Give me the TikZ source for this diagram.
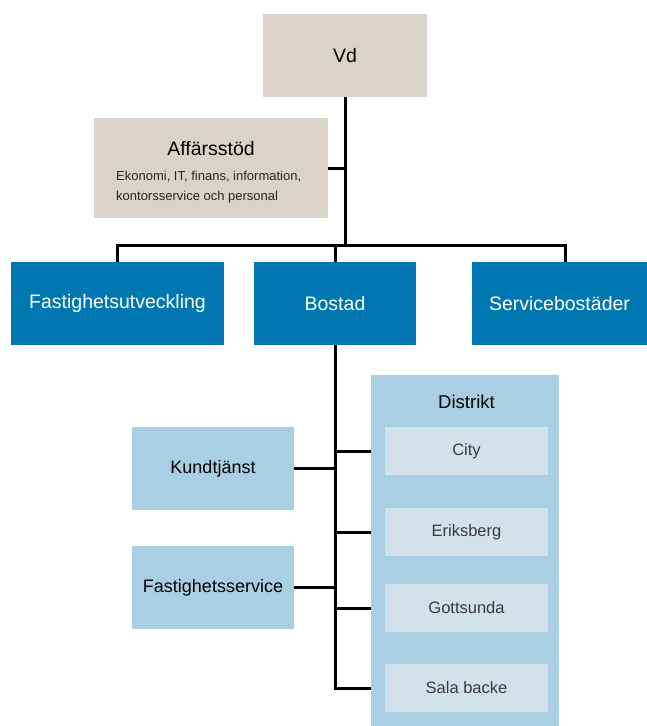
\documentclass[tikz,border=0pt]{standalone}
\usepackage{fontspec}
\setmainfont{Liberation Sans}
\definecolor{beige}{HTML}{D9D3C9}
\definecolor{dblue}{HTML}{0077B0}
\definecolor{lblue}{HTML}{A9CFE3}
\definecolor{pblue}{HTML}{D3E1EA}
\definecolor{dtext}{HTML}{3A3A3A}
\begin{document}
\begin{tikzpicture}[x=1pt,y=-1pt,
  box/.style={inner sep=0pt, align=center, anchor=center},
  gbox/.style={box, fill=beige, text=black},
  bbox/.style={box, fill=dblue, text=white, minimum height=83pt, font=\fontsize{19.5}{22}\selectfont},
  lbox/.style={box, fill=lblue, text=black, minimum width=162pt, minimum height=83pt, font=\fontsize{18}{20}\selectfont},
  ibox/.style={box, fill=pblue, text=dtext, minimum width=163pt, minimum height=48pt, font=\fontsize{16.5}{19}\selectfont},
  conn/.style={line width=3pt, black}]
\useasboundingbox (0,0) rectangle (647,726);
% top
\node[gbox, minimum width=164pt, minimum height=83pt, font=\fontsize{19.5}{22}\selectfont] (vd) at (345,55.5) {Vd};
\node[gbox, minimum width=234pt, minimum height=100pt] (aff) at (211,168) {};
\node[box, font=\fontsize{19.5}{22}\selectfont] (afft) at (211,149) {Affärsstöd};
\node[box, anchor=west, align=left, font=\fontsize{13}{20}\selectfont, text=black!85] (affs) at (116,187) {Ekonomi, IT, finans, information,\\kontorsservice och personal};
% second level
\node[bbox, minimum width=213pt] (fu) at (117.5,303.5) {Fastighetsutveckling};
\node[bbox, minimum width=162pt] (bo) at (335,303.5) {Bostad};
\node[bbox, minimum width=175pt] (sb) at (559.5,303.5) {Servicebostäder};
% district
\node[box, fill=lblue, minimum width=188pt, minimum height=351pt] (dist) at (465,550.5) {};
\node[box, font=\fontsize{18.5}{20}\selectfont] (distt) at (466.5,402) {Distrikt};
\node[ibox] (city) at (466.5,451) {City};
\node[ibox] (erik) at (466.5,532) {Eriksberg};
\node[ibox] (gott) at (466.5,608) {Gottsunda};
\node[ibox] (sala) at (466.5,688) {Sala backe};
% left
\node[lbox] (kund) at (213,468.5) {Kundtjänst};
\node[lbox] (fserv) at (213,587.5) {Fastighetsservice};
% connectors
\coordinate (bus) at (345,245);
\draw[conn] (vd.south) -- (bus);
\draw[conn] (aff.east) -- (aff.east -| vd.south);
\draw[conn] (fu.north) |- (bus) -| ([xshift=6pt]sb.north);
\draw[conn] (bo.north) -- (bo.north |- bus);
\draw[conn] (bo.south) |- (sala.west -| dist.west);
\draw[conn] (city.west -| bo.south) -- (city.west -| dist.west);
\draw[conn] (erik.west -| bo.south) -- (erik.west -| dist.west);
\draw[conn] (gott.west -| bo.south) -- (gott.west -| dist.west);
\draw[conn] (kund.east) -- (kund.east -| bo.south);
\draw[conn] (fserv.east) -- (fserv.east -| bo.south);
\end{tikzpicture}
\end{document}
